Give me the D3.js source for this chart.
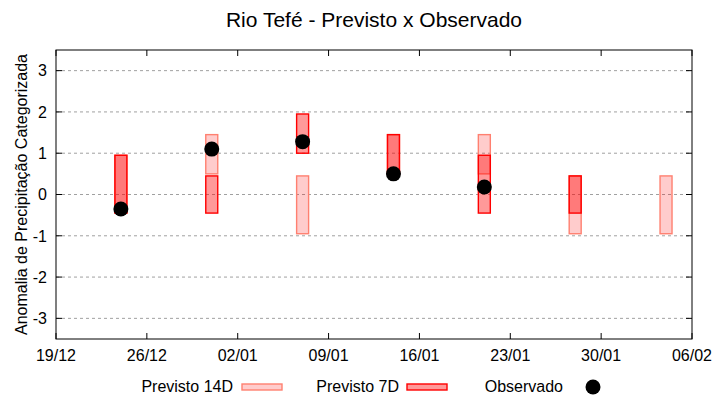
<!DOCTYPE html>
<html><head><meta charset="utf-8">
<script src="https://cdn.jsdelivr.net/npm/d3@7"></script>
<style>body{margin:0;background:#fff}svg{font-family:"Liberation Sans",Arial,sans-serif}</style>
</head><body><svg id="c" width="720" height="400"></svg>
<script>
const dates = ["2023-12-24","2023-12-31","2024-01-07","2024-01-14","2024-01-21","2024-01-28","2024-02-04"];
const prev14Low  = [-0.45, 0.5, -0.95, 0.5, 0.5, -0.95, -0.95];
const prev14High = [ 0.95, 1.45, 0.45, 1.45, 1.45, 0.45, 0.45];
const prev7Low   = [-0.45, -0.45, 1.0, 0.5, -0.45, -0.45, null];
const prev7High  = [ 0.95, 0.45, 1.95, 1.45, 0.95, 0.45, null];
const observed   = [-0.35, 1.1, 1.28, 0.5, 0.18, null, null];
const yTicks = [-3,-2,-1,0,1,2,3];
const xTickDates = ["2023-12-19","2023-12-26","2024-01-02","2024-01-09","2024-01-16","2024-01-23","2024-01-30","2024-02-06"];

const svg = d3.select("#c");
const L=56,R=692,T=50,B=339;
const parse = d3.utcParse("%Y-%m-%d");
const x = d3.scaleUtc().domain([parse("2023-12-19"), parse("2024-02-06")]).range([L,R]);
const y = d3.scaleLinear().domain([-3.5,3.5]).range([B,T]);
const fmt = d3.utcFormat("%d/%m");
const day = x(parse("2023-12-20")) - x(parse("2023-12-19"));
const bw = day - 1;

// grid
svg.append("g").selectAll("line").data(yTicks).join("line")
  .attr("x1",L).attr("x2",R).attr("y1",d=>y(d)).attr("y2",d=>y(d))
  .attr("stroke","#a0a0a0").attr("stroke-width",1).attr("stroke-dasharray","3,3");

// 14D bars
svg.append("g").selectAll("rect").data(dates.map((d,i)=>({d:parse(d),lo:prev14Low[i],hi:prev14High[i]})).filter(e=>e.lo!=null))
  .join("rect").attr("x",e=>x(e.d)-bw/2).attr("width",bw)
  .attr("y",e=>y(e.hi)).attr("height",e=>y(e.lo)-y(e.hi))
  .attr("fill","rgba(255,0,0,0.2)").attr("stroke","#ff8070").attr("stroke-width",1.4);
// 7D bars
svg.append("g").selectAll("rect").data(dates.map((d,i)=>({d:parse(d),lo:prev7Low[i],hi:prev7High[i]})).filter(e=>e.lo!=null))
  .join("rect").attr("x",e=>x(e.d)-bw/2).attr("width",bw)
  .attr("y",e=>y(e.hi)).attr("height",e=>y(e.lo)-y(e.hi))
  .attr("fill","rgba(255,0,0,0.4)").attr("stroke","#ff0000").attr("stroke-width",1.4);
// observed
svg.append("g").selectAll("circle").data(dates.map((d,i)=>({d:parse(d),v:observed[i]})).filter(e=>e.v!=null))
  .join("circle").attr("cx",e=>x(e.d)).attr("cy",e=>y(e.v)).attr("r",7.5).attr("fill","#000");

// frame
svg.append("rect").attr("x",L).attr("y",T).attr("width",R-L).attr("height",B-T)
  .attr("fill","none").attr("stroke","#000").attr("stroke-width",1);

// y ticks (inward both sides)
const yt = svg.append("g");
yTicks.forEach(v=>{
  yt.append("line").attr("x1",L).attr("x2",L+6).attr("y1",y(v)).attr("y2",y(v)).attr("stroke","#000");
  yt.append("line").attr("x1",R-6).attr("x2",R).attr("y1",y(v)).attr("y2",y(v)).attr("stroke","#000");
  yt.append("text").attr("x",L-9).attr("y",y(v)).attr("dy","0.36em").attr("text-anchor","end")
    .attr("font-size",16).attr("fill","#000").text(v);
});
// x ticks
const xt = svg.append("g");
xTickDates.map(parse).forEach(d=>{
  xt.append("line").attr("x1",x(d)).attr("x2",x(d)).attr("y1",B).attr("y2",B-6).attr("stroke","#000");
  xt.append("line").attr("x1",x(d)).attr("x2",x(d)).attr("y1",T).attr("y2",T+6).attr("stroke","#000");
  xt.append("text").attr("x",x(d)).attr("y",B+22).attr("text-anchor","middle")
    .attr("font-size",16).attr("fill","#000").text(fmt(d));
});

// title
svg.append("text").attr("x",374).attr("y",27).attr("text-anchor","middle").attr("font-size",21).text("Rio Tefé - Previsto x Observado");
// y label
svg.append("text").attr("transform","translate(27,"+((T+B)/2)+") rotate(-90)").attr("text-anchor","middle")
  .attr("font-size",16).text("Anomalia de Precipitação Categorizada");

// legend
const lg = svg.append("g");
lg.append("text").attr("x",233).attr("y",392).attr("text-anchor","end").attr("font-size",16).text("Previsto 14D");
lg.append("rect").attr("x",242).attr("y",384).attr("width",40).attr("height",6).attr("fill","rgba(255,0,0,0.2)").attr("stroke","#ff8070").attr("stroke-width",1.4);
lg.append("text").attr("x",399).attr("y",392).attr("text-anchor","end").attr("font-size",16).text("Previsto 7D");
lg.append("rect").attr("x",407).attr("y",384).attr("width",40).attr("height",6).attr("fill","rgba(255,0,0,0.4)").attr("stroke","#ff0000").attr("stroke-width",1.4);
lg.append("text").attr("x",563).attr("y",392).attr("text-anchor","end").attr("font-size",16).text("Observado");
lg.append("circle").attr("cx",593).attr("cy",387).attr("r",7.5).attr("fill","#000");
</script></body></html>
